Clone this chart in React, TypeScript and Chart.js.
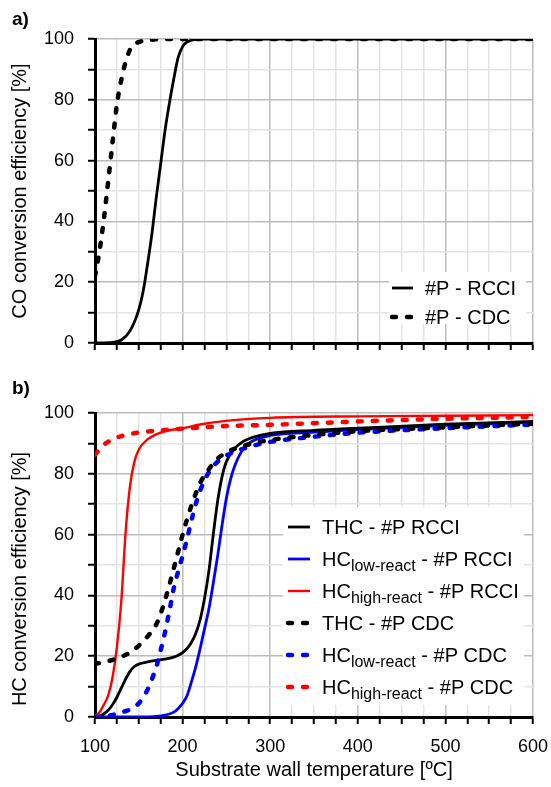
import React, { useEffect, useRef } from 'react';
import { Chart, registerables } from 'chart.js';

Chart.register(...registerables);

const FONT = "'Liberation Sans', Arial, Helvetica, sans-serif";

// ---------- axis tick labels ----------
const xLabelValues = [100, 200, 300, 400, 500, 600];
const yLabelValues = [0, 20, 40, 60, 80, 100];

// ---------- panel a) CO conversion efficiency ----------
const coRcciTemp = [100, 120, 130, 140, 150, 155, 160, 165, 170, 175, 180, 185, 190, 195, 200, 205, 210, 220, 300, 400, 500, 600];
const coRcciEff = [0, 0.2, 1, 4, 11, 17, 26, 36, 48, 59, 70, 79, 87, 94, 97.5, 99, 99.6, 100, 100, 100, 100, 100];
const coCdcTemp = [100, 105, 110, 115, 120, 125, 130, 135, 140, 145, 150, 160, 180, 300, 400, 500, 600];
const coCdcEff = [22, 30, 40.5, 53, 66, 78.5, 86.5, 92.5, 96.5, 98.3, 99, 99.6, 100, 100, 100, 100, 100];

// ---------- panel b) HC conversion efficiency ----------
const thcRcciTemp = [100, 105, 110, 115, 120, 125, 130, 135, 140, 145, 150, 160, 170, 180, 190, 195, 200, 205, 210, 215, 220, 225, 230, 235, 240, 245, 250, 260, 270, 280, 300, 350, 400, 500, 600];
const thcRcciEff = [0, 0.3, 1, 2.2, 4, 6.5, 9.5, 12.5, 15, 16.6, 17.4, 18.1, 18.6, 19, 19.7, 20.3, 21.2, 22.5, 24.5, 27.5, 32, 39, 48, 60, 71, 79, 84, 88.5, 90.8, 92, 93.3, 94.3, 95, 96.3, 97.2];

const lowRcciTemp = [100, 150, 170, 180, 190, 195, 200, 205, 210, 215, 220, 225, 230, 235, 240, 245, 250, 255, 260, 270, 280, 300, 350, 400, 500, 600];
const lowRcciEff = [0, 0, 0.2, 0.6, 1.6, 2.8, 4.5, 7, 11.5, 16.5, 22.5, 29, 35.5, 44, 53, 63, 72, 78.5, 83, 88.5, 90.8, 92.6, 93.7, 94.5, 95.9, 96.9];

const highRcciTemp = [100, 105, 110, 115, 120, 125, 130, 135, 140, 145, 150, 160, 170, 180, 200, 220, 250, 300, 400, 500, 600];
const highRcciEff = [0.5, 1.5, 4, 7, 13, 23, 38, 61, 76, 84, 88, 91.3, 93, 94, 95, 96.2, 97.4, 98.4, 98.9, 99.1, 99.3];

const thcCdcTemp = [100, 110, 120, 130, 140, 150, 160, 170, 175, 180, 185, 190, 195, 200, 205, 210, 215, 220, 230, 240, 250, 260, 280, 300, 350, 400, 500, 600];
const thcCdcEff = [17.5, 18, 18.8, 19.8, 21.2, 23.5, 26.5, 30.5, 34, 38.5, 43.5, 49, 54.5, 60, 65, 69.5, 73.5, 77, 81.5, 85, 87, 88.3, 90, 91.1, 92.8, 94, 95.3, 96.5];

const lowCdcTemp = [100, 110, 120, 130, 140, 150, 155, 160, 165, 170, 175, 180, 185, 190, 195, 200, 205, 210, 215, 220, 230, 240, 250, 260, 280, 300, 350, 400, 500, 600];
const lowCdcEff = [0, 0.2, 0.7, 1.5, 2.5, 4.5, 6.5, 9, 12.5, 16.5, 22, 28, 35, 42.5, 48, 53, 58.5, 64.5, 70, 74.5, 80.5, 84, 86, 87.3, 89.2, 90.5, 92.2, 93.5, 95, 96.2];

const highCdcTemp = [100, 110, 120, 130, 140, 150, 175, 200, 250, 300, 400, 500, 600];
const highCdcEff = [86.3, 89.5, 91.3, 92.4, 93.1, 93.6, 94.3, 94.8, 95.7, 96.1, 97.2, 98.1, 98.7];

// ---------- legend texts ----------
type Part = { text: string; sub?: boolean };
const legendATexts: Part[][] = [[{ text: '#P - RCCI' }], [{ text: '#P - CDC' }]];
const legendBTexts: Part[][] = [
  [{ text: 'THC - #P RCCI' }],
  [{ text: 'HC' }, { text: 'low-react', sub: true }, { text: ' - #P RCCI' }],
  [{ text: 'HC' }, { text: 'high-react', sub: true }, { text: ' - #P RCCI' }],
  [{ text: 'THC - #P CDC' }],
  [{ text: 'HC' }, { text: 'low-react', sub: true }, { text: ' - #P CDC' }],
  [{ text: 'HC' }, { text: 'high-react', sub: true }, { text: ' - #P CDC' }],
];

const BLACK = '#000000';
const BLUE = '#0000ff';
const RED = '#ff0000';
const MAJOR = '#bcbcbc';
const MINOR = '#e3e3e3';
const DASH = [4, 11];

type Style = { color: string; dashed: boolean; width: number };

function pts(xs: number[], ys: number[]) {
  return xs.map((x, i) => ({ x, y: ys[i] }));
}

function ds(label: string, xs: number[], ys: number[], st: Style, order: number) {
  return {
    label,
    data: pts(xs, ys),
    borderColor: st.color,
    backgroundColor: st.color,
    borderWidth: st.width,
    borderDash: st.dashed ? DASH : [],
    borderCapStyle: st.dashed ? 'round' : 'butt',
    borderJoinStyle: 'round',
    pointRadius: 0,
    pointHoverRadius: 0,
    cubicInterpolationMode: 'monotone',
    fill: false,
    order,
  };
}

type DecorCfg = {
  panelLabel: string;
  panelLabelY: number;
  yTitle: string;
  yTitleY: number;
  box: [number, number, number, number];
  rowsY: number[];
  sampleX: [number, number];
  textX: number;
  styles: Style[];
  texts: Part[][];
};

function decorPlugin(id: string, cfg: DecorCfg) {
  return {
    id,
    afterDatasetsDraw(chart: any) {
      const ctx: CanvasRenderingContext2D = chart.ctx;
      ctx.save();
      // legend box
      ctx.fillStyle = '#ffffff';
      ctx.fillRect(cfg.box[0], cfg.box[1], cfg.box[2], cfg.box[3]);
      cfg.rowsY.forEach((ry, i) => {
        const st = cfg.styles[i];
        ctx.beginPath();
        ctx.strokeStyle = st.color;
        ctx.lineWidth = st.width;
        ctx.setLineDash(st.dashed ? DASH : []);
        ctx.lineCap = st.dashed ? 'round' : 'butt';
        ctx.moveTo(cfg.sampleX[0], ry);
        ctx.lineTo(cfg.sampleX[1], ry);
        ctx.stroke();
        ctx.setLineDash([]);
        let x = cfg.textX;
        const base = ry + 7;
        ctx.fillStyle = '#000';
        ctx.textAlign = 'left';
        ctx.textBaseline = 'alphabetic';
        cfg.texts[i].forEach((p) => {
          ctx.font = p.sub ? `16px ${FONT}` : `20px ${FONT}`;
          ctx.fillText(p.text, x, p.sub ? base + 5 : base);
          x += ctx.measureText(p.text).width;
        });
      });
      ctx.restore();
    },
    afterDraw(chart: any) {
      const ctx: CanvasRenderingContext2D = chart.ctx;
      ctx.save();
      ctx.fillStyle = '#000';
      ctx.font = `bold 19px ${FONT}`;
      ctx.textAlign = 'left';
      ctx.textBaseline = 'middle';
      ctx.fillText(cfg.panelLabel, 12, cfg.panelLabelY);
      ctx.translate(20, cfg.yTitleY);
      ctx.rotate(-Math.PI / 2);
      ctx.font = `20px ${FONT}`;
      ctx.textAlign = 'center';
      ctx.textBaseline = 'middle';
      ctx.fillText(cfg.yTitle, 0, 0);
      ctx.restore();
    },
  };
}

function scales(showXLabels: boolean, xHeight: number) {
  return {
    x: {
      type: 'linear',
      min: 100,
      max: 600,
      ticks: {
        stepSize: 25,
        autoSkip: false,
        maxRotation: 0,
        minRotation: 0,
        color: '#000',
        padding: 12,
        font: { family: FONT, size: 18 },
        callback: (v: number) => (showXLabels && xLabelValues.includes(v) ? String(v) : ''),
      },
      grid: {
        color: (c: any) => (c.tick && c.tick.value % 100 === 0 ? MAJOR : MINOR),
        lineWidth: 1.5,
        tickColor: '#000',
        tickLength: 7,
        tickWidth: 2,
      },
      border: { display: true, color: '#000', width: 3 },
      title: showXLabels
        ? {
            display: true,
            text: 'Substrate wall temperature [ºC]',
            color: '#000',
            font: { family: FONT, size: 20 },
            padding: { top: 0, bottom: 5 },
          }
        : { display: false },
      afterFit: (s: any) => {
        s.height = xHeight;
        s.paddingLeft = 0;
        s.paddingRight = 0;
      },
    },
    y: {
      type: 'linear',
      min: 0,
      max: 100,
      ticks: {
        stepSize: 10,
        autoSkip: false,
        color: '#000',
        padding: 14,
        font: { family: FONT, size: 18 },
        callback: (v: number) => (yLabelValues.includes(v) ? String(v) : ''),
      },
      grid: {
        color: (c: any) => (c.tick && c.tick.value % 20 === 0 ? MAJOR : MINOR),
        lineWidth: 1.5,
        tickColor: '#000',
        tickLength: 7,
        tickWidth: 2,
      },
      border: { display: true, color: '#000', width: 3 },
      afterFit: (s: any) => {
        s.width = 95;
        s.paddingTop = 0;
        s.paddingBottom = 0;
      },
    },
  };
}

const stylesA: Style[] = [
  { color: BLACK, dashed: false, width: 2.8 },
  { color: BLACK, dashed: true, width: 4.5 },
];
const stylesB: Style[] = [
  { color: BLACK, dashed: false, width: 2.8 },
  { color: BLUE, dashed: false, width: 2.8 },
  { color: RED, dashed: false, width: 2.4 },
  { color: BLACK, dashed: true, width: 4.5 },
  { color: BLUE, dashed: true, width: 4.5 },
  { color: RED, dashed: true, width: 4.5 },
];

export default function App() {
  const refA = useRef<HTMLCanvasElement>(null);
  const refB = useRef<HTMLCanvasElement>(null);

  useEffect(() => {
    const common = {
      responsive: false,
      maintainAspectRatio: false,
      devicePixelRatio: 1,
      animation: false,
      events: [],
      plugins: { legend: { display: false }, tooltip: { enabled: false } },
    };

    const chartA = new Chart(refA.current as HTMLCanvasElement, {
      type: 'line',
      data: {
        datasets: [
          ds('#P - RCCI', coRcciTemp, coRcciEff, stylesA[0], 2),
          ds('#P - CDC', coCdcTemp, coCdcEff, stylesA[1], 1),
        ] as any,
      },
      options: {
        ...common,
        layout: { padding: { left: 0, right: 18, top: 39, bottom: 0 } },
        scales: scales(false, 27) as any,
      } as any,
      plugins: [
        decorPlugin('decorA', {
          panelLabel: 'a)',
          panelLabelY: 20,
          yTitle: 'CO conversion efficiency [%]',
          yTitleY: 191,
          box: [389, 272, 137, 52],
          rowsY: [288, 317],
          sampleX: [392, 413],
          textX: 425,
          styles: stylesA,
          texts: legendATexts,
        }),
      ],
    });

    const chartB = new Chart(refB.current as HTMLCanvasElement, {
      type: 'line',
      data: {
        datasets: [
          ds('THC - #P RCCI', thcRcciTemp, thcRcciEff, stylesB[0], 4),
          ds('HC low-react - #P RCCI', lowRcciTemp, lowRcciEff, stylesB[1], 5),
          ds('HC high-react - #P RCCI', highRcciTemp, highRcciEff, stylesB[2], 6),
          ds('THC - #P CDC', thcCdcTemp, thcCdcEff, stylesB[3], 1),
          ds('HC low-react - #P CDC', lowCdcTemp, lowCdcEff, stylesB[4], 2),
          ds('HC high-react - #P CDC', highCdcTemp, highCdcEff, stylesB[5], 0),
        ] as any,
      },
      options: {
        ...common,
        layout: { padding: { left: 0, right: 18, top: 43, bottom: 0 } },
        scales: scales(true, 70) as any,
      } as any,
      plugins: [
        decorPlugin('decorB', {
          panelLabel: 'b)',
          panelLabelY: 19,
          yTitle: 'HC conversion efficiency [%]',
          yTitleY: 209,
          box: [283, 137, 241, 198],
          rowsY: [157, 189, 221, 253, 285, 317],
          sampleX: [288, 310],
          textX: 322,
          styles: stylesB,
          texts: legendBTexts,
        }),
      ],
    });

    return () => {
      chartA.destroy();
      chartB.destroy();
    };
  }, []);

  return (
    <div style={{ position: 'absolute', left: 0, top: 0, width: 551, height: 787, background: '#fff' }}>
      <canvas ref={refA} width={551} height={370} style={{ position: 'absolute', left: 0, top: 0, width: 551, height: 370 }} />
      <canvas ref={refB} width={551} height={417} style={{ position: 'absolute', left: 0, top: 370, width: 551, height: 417 }} />
    </div>
  );
}
